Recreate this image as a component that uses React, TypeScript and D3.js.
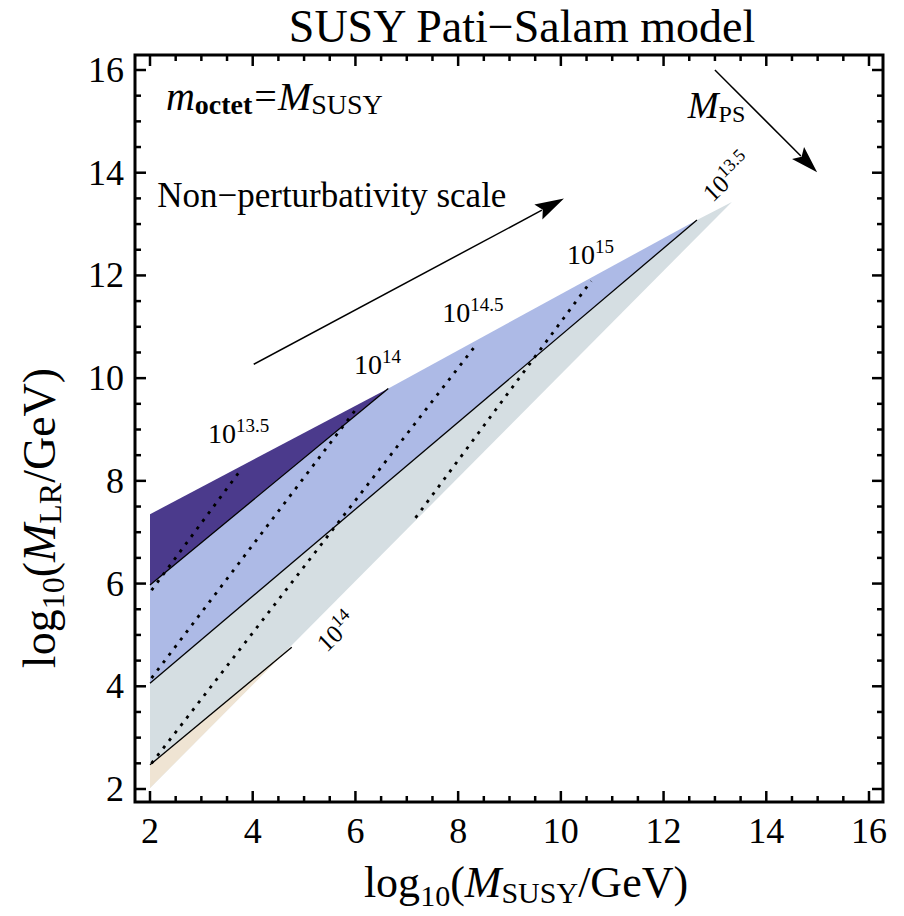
import React from 'react';
import * as d3 from 'd3';

// ---------- data ----------
const xTickValues = [2, 4, 6, 8, 10, 12, 14, 16];
const yTickValues = [2, 4, 6, 8, 10, 12, 14, 16];
const minorStep = 0.5;

// shaded regions: [log10 M_SUSY, log10 M_LR]
const beigeRegion: [number, number][] = [[2, 2.02], [2, 2.47], [4.76, 4.79]];
const greyRegion: [number, number][] = [[2, 2.02], [13.33, 13.43], [12.65, 13.08], [2, 4.06]];
const blueRegion: [number, number][] = [[2, 4.06], [12.65, 13.08], [6.64, 9.8], [2, 5.97]];
const purpleRegion: [number, number][] = [[2, 5.97], [6.64, 9.8], [2, 7.35]];

// solid contour lines
const solidUpper: [number, number][] = [[2, 5.97], [6.64, 9.8]];
const solidMiddle: [number, number][] = [[2, 4.06], [12.65, 13.08]];
const solidLower: [number, number][] = [[2, 2.47], [4.76, 4.76]];

// dotted contour lines
const dotted1: [number, number][] = [[2.03, 5.87], [3.72, 8.15]];
const dotted2: [number, number][] = [[2.03, 4.16], [6.0, 9.38]];
const dotted3: [number, number][] = [[2.03, 2.5], [8.35, 10.65]];
const dotted4: [number, number][] = [[7.17, 7.28], [10.59, 11.89]];

// contour labels: base "10", exponent, anchor (data)
const labelExponents = ['13.5', '14', '14.5', '15'];
const labelAnchors: [number, number][] = [[3.13, 8.74], [5.97, 10.08], [7.69, 11.09], [10.12, 12.23]];
const rotatedExponents = ['13.5', '14'];
const rotatedAnchors: [number, number][] = [[12.96, 13.41], [5.44, 4.65]];

// arrows
const arrowNP: [number, number][] = [[4.02, 10.27], [10.06, 13.5]];
const arrowPS: [number, number][] = [[13.0, 16.0], [14.99, 14.01]];

const W = 904;
const H = 916;
const frame = { left: 135, right: 883, top: 55, bottom: 802 };
const FONT = '"Liberation Serif", "Times New Roman", Times, serif';

const x = d3.scaleLinear().domain([2, 16]).range([150, 869]);
const y = d3.scaleLinear().domain([2, 16]).range([789, 70]);

const polyPath = d3
  .line<[number, number]>()
  .x((d) => x(d[0]))
  .y((d) => y(d[1]))
  .curve(d3.curveLinearClosed);
const linePath = d3
  .line<[number, number]>()
  .x((d) => x(d[0]))
  .y((d) => y(d[1]));

function Arrow({ pts, headLen, headHalf }: { pts: [number, number][]; headLen: number; headHalf: number }) {
  const x0 = x(pts[0][0]);
  const y0 = y(pts[0][1]);
  const x1 = x(pts[1][0]);
  const y1 = y(pts[1][1]);
  const dx = x1 - x0;
  const dy = y1 - y0;
  const L = Math.hypot(dx, dy);
  const ux = dx / L;
  const uy = dy / L;
  const bx = x1 - ux * headLen;
  const by = y1 - uy * headLen;
  const px = -uy;
  const py = ux;
  const head = `M${x1},${y1}L${bx + px * headHalf},${by + py * headHalf}L${bx + ux * 5},${by + uy * 5}L${bx - px * headHalf},${by - py * headHalf}Z`;
  return (
    <g>
      <line x1={x0} y1={y0} x2={bx + ux * 4} y2={by + uy * 4} stroke="#000" strokeWidth={1.5} />
      <path d={head} fill="#000" />
    </g>
  );
}

export default function App() {
  const minorTicks = d3.range(2, 16 + 1e-9, minorStep);
  const majorLen = 11;
  const minorLen = 6;

  return (
    <svg
      width={W}
      height={H}
      viewBox={`0 0 ${W} ${H}`}
      style={{ position: 'absolute', left: 0, top: 0, background: '#fff' }}
      fontFamily={FONT}
    >
      <rect x={0} y={0} width={W} height={H} fill="#fff" />

      {/* title */}
      <text x={522} y={42} fontSize={46} textAnchor="middle" fill="#000" fontFamily={FONT}>
        SUSY Pati−Salam model
      </text>

      {/* regions */}
      <path d={polyPath(greyRegion) || ''} fill="#d5dee2" />
      <path d={polyPath(beigeRegion) || ''} fill="#efe4d3" />
      <path d={polyPath(blueRegion) || ''} fill="#adbae6" />
      <path d={polyPath(purpleRegion) || ''} fill="#4b3a8c" />

      {/* solid contours */}
      {[solidUpper, solidMiddle, solidLower].map((l, i) => (
        <path key={'s' + i} d={linePath(l) || ''} stroke="#000" strokeWidth={1.3} fill="none" />
      ))}

      {/* dotted contours */}
      {[dotted1, dotted2, dotted3, dotted4].map((l, i) => (
        <path
          key={'d' + i}
          d={linePath(l) || ''}
          stroke="#000"
          strokeWidth={2.8}
          strokeDasharray="3 6.5"
          fill="none"
        />
      ))}

      {/* upright contour labels */}
      {labelExponents.map((e, i) => (
        <text
          key={'l' + i}
          x={x(labelAnchors[i][0])}
          y={y(labelAnchors[i][1])}
          fontSize={28}
          fill="#000"
          fontFamily={FONT}
        >
          10
          <tspan fontSize={19} dy={-11}>
            {e}
          </tspan>
        </text>
      ))}

      {/* rotated contour labels */}
      {rotatedExponents.map((e, i) => (
        <text
          key={'r' + i}
          transform={`translate(${x(rotatedAnchors[i][0])},${y(rotatedAnchors[i][1])}) rotate(-44)`}
          fontSize={25}
          fill="#000"
          fontFamily={FONT}
        >
          10
          <tspan fontSize={18} dy={-10}>
            {e}
          </tspan>
        </text>
      ))}

      {/* arrows */}
      <Arrow pts={arrowNP} headLen={29} headHalf={8.5} />
      <Arrow pts={arrowPS} headLen={27} headHalf={8.5} />

      {/* annotations */}
      <text x={x(2.31)} y={y(15.23)} fontSize={40} fill="#000" fontFamily={FONT}>
        <tspan fontStyle="italic">m</tspan>
        <tspan fontSize={28} fontWeight="bold" dy={4}>
          octet
        </tspan>
        <tspan dy={-4} dx={2}>
          =
        </tspan>
        <tspan fontStyle="italic" dx={1}>
          M
        </tspan>
        <tspan fontSize={28} dy={4}>
          SUSY
        </tspan>
      </text>
      <text x={x(12.47)} y={y(15.06)} fontSize={37} fill="#000" fontFamily={FONT}>
        <tspan fontStyle="italic">M</tspan>
        <tspan fontSize={24} dy={4}>
          PS
        </tspan>
      </text>
      <text x={x(2.14)} y={y(13.34)} fontSize={35} fill="#000" fontFamily={FONT}>
        Non−perturbativity scale
      </text>

      {/* frame */}
      <rect
        x={frame.left}
        y={frame.top}
        width={frame.right - frame.left}
        height={frame.bottom - frame.top}
        fill="none"
        stroke="#000"
        strokeWidth={3}
      />

      {/* ticks */}
      {minorTicks.map((t) => {
        const major = Math.abs(t - Math.round(t)) < 1e-9 && Math.round(t) % 2 === 0;
        const len = major ? majorLen : minorLen;
        const px = x(t);
        const py = y(t);
        return (
          <g key={'t' + t} stroke="#000" strokeWidth={2.5}>
            <line x1={px} x2={px} y1={frame.bottom} y2={frame.bottom - len} />
            <line x1={px} x2={px} y1={frame.top} y2={frame.top + len} />
            <line y1={py} y2={py} x1={frame.left} x2={frame.left + len} />
            <line y1={py} y2={py} x1={frame.right} x2={frame.right - len} />
          </g>
        );
      })}

      {/* tick labels */}
      {xTickValues.map((t) => (
        <text key={'xl' + t} x={x(t)} y={843} fontSize={36} textAnchor="middle" fill="#000" fontFamily={FONT}>
          {t}
        </text>
      ))}
      {yTickValues.map((t) => (
        <text key={'yl' + t} x={124} y={y(t) + 12} fontSize={36} textAnchor="end" fill="#000" fontFamily={FONT}>
          {t}
        </text>
      ))}

      {/* axis titles */}
      <text x={526} y={897} fontSize={44} textAnchor="middle" fill="#000" fontFamily={FONT}>
        log
        <tspan fontSize={30} dy={9}>
          10
        </tspan>
        <tspan dy={-9}>(</tspan>
        <tspan fontStyle="italic">M</tspan>
        <tspan fontSize={30} dy={6}>
          SUSY
        </tspan>
        <tspan dy={-6}>/GeV)</tspan>
      </text>
      <text
        transform="translate(55,518) rotate(-90)"
        fontSize={46}
        textAnchor="middle"
        fill="#000"
        fontFamily={FONT}
      >
        log
        <tspan fontSize={32} dy={9}>
          10
        </tspan>
        <tspan dy={-9}>(</tspan>
        <tspan fontStyle="italic">M</tspan>
        <tspan fontSize={32} dy={6}>
          LR
        </tspan>
        <tspan dy={-6}>/GeV)</tspan>
      </text>
    </svg>
  );
}
